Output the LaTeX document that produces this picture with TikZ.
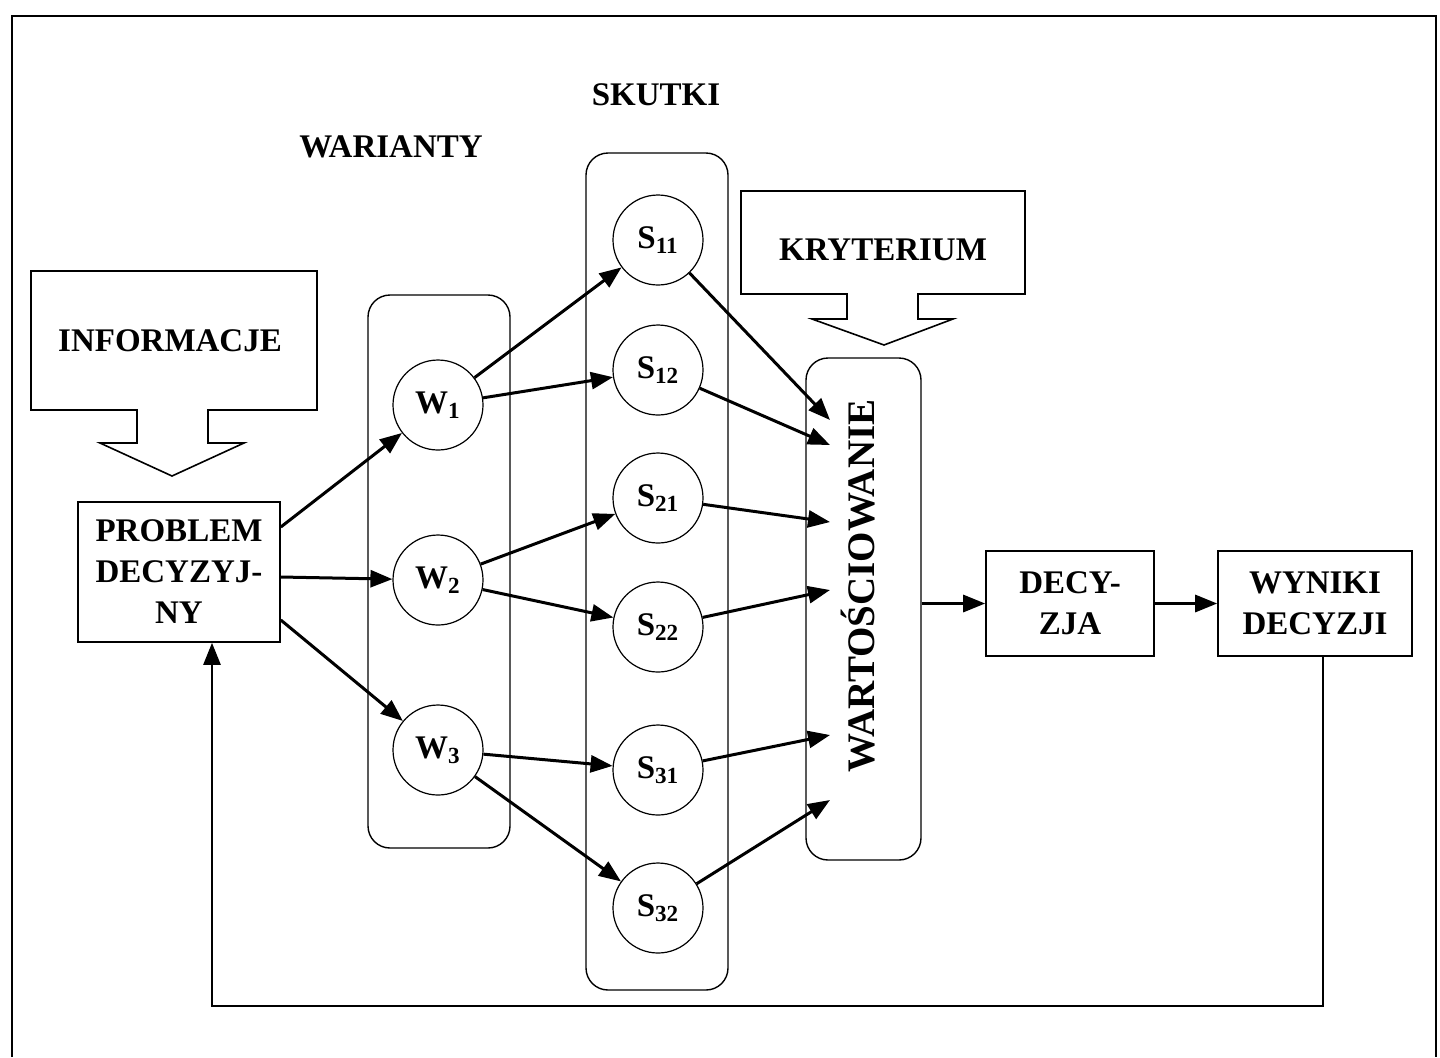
\documentclass[tikz,border=0pt]{standalone}
\usepackage{fontspec}
\setmainfont{Liberation Serif}
\usetikzlibrary{arrows.meta}

\begin{document}
\begin{tikzpicture}[x=0.5pt,y=-0.5pt,
  lbl/.style={font=\fontsize{16.5}{20.5}\selectfont\bfseries},
  box/.style={draw, line width=0.8pt, inner sep=0pt, align=center, font=\fontsize{16.5}{20.5}\selectfont\bfseries},
  column/.style={draw, line width=0.7pt, rounded corners=11pt, inner sep=0pt},
  var/.style={draw, circle, line width=0.6pt, minimum size=45pt, inner sep=0pt, font=\fontsize{16.5}{18}\selectfont\bfseries},
  arr/.style={line width=1.5pt, -{Triangle[length=11pt,width=8.5pt]}},
  callout/.style={line width=0.8pt, line join=miter}]
\useasboundingbox (0,0) rectangle (1440,1057);
\draw[line width=0.9pt] (12,1057) -- (12,16) -- (1436,16) -- (1436,1057);

\draw[callout] (208,410) -- (317,410) -- (317,271) -- (31,271) -- (31,410) -- (137,410) -- (137,443) -- (100,443) -- (172,476) -- (244,443) -- (208,443) -- cycle;
\node[lbl] (info) at (170,341) {INFORMACJE};
\draw[callout] (918,294) -- (1025,294) -- (1025,191) -- (741,191) -- (741,294) -- (847,294) -- (847,319) -- (812,319) -- (884,345) -- (953,319) -- (918,319) -- cycle;
\node[lbl] (kryt) at (883,250) {KRYTERIUM};

\node[lbl] (war) at (391,147) {WARIANTY};
\node[lbl] (skut) at (656,95) {SKUTKI};

\node[column, minimum width=71pt, minimum height=276.5pt] (wcol) at (439,571.5) {};
\node[column, minimum width=71pt, minimum height=418.5pt] (scol) at (657,571.5) {};
\node[column, minimum width=57.5pt, minimum height=251pt] (wart) at (863.5,609) {};
\node[font=\fontsize{19.5}{21}\selectfont\bfseries, rotate=90] (wartlbl) at (858,586) {WARTOŚCIOWANIE};

\node[box, minimum width=101pt, minimum height=70pt] (prob) at (179,572) {PROBLEM\\DECYZYJ-\\NY};
\node[box, minimum width=84pt, minimum height=52.5pt] (dec) at (1070,603.5) {DECY-\\ZJA};
\node[box, minimum width=97pt, minimum height=52.5pt] (wyn) at (1315,603.5) {WYNIKI\\DECYZJI};

\node[var] (w1) at (438,405) {W\textsubscript{1}};
\node[var] (w2) at (438,580) {W\textsubscript{2}};
\node[var] (w3) at (438,750) {W\textsubscript{3}};

\node[var] (s11) at (658,240) {S\textsubscript{11}};
\node[var] (s12) at (658,370) {S\textsubscript{12}};
\node[var] (s21) at (658,498) {S\textsubscript{21}};
\node[var] (s22) at (658,627) {S\textsubscript{22}};
\node[var] (s31) at (658,770) {S\textsubscript{31}};
\node[var] (s32) at (658,908) {S\textsubscript{32}};

\coordinate (v1) at (830,420);
\coordinate (v2) at (830,445);
\coordinate (v3) at (830,522);
\coordinate (v4) at (830,590);
\coordinate (v5) at (830,735);
\coordinate (v6) at (830,800);
\coordinate (fb) at (600,1006);

\draw[arr] ([yshift=22.5pt]prob.east) -- (w1);
\draw[arr] ([yshift=-2.5pt]prob.east) -- (w2);
\draw[arr] ([yshift=-24pt]prob.east) -- (w3);

\draw[arr] (w1) -- (s11);
\draw[arr] (w1) -- (s12);
\draw[arr] (w2) -- (s21);
\draw[arr] (w2) -- (s22);
\draw[arr] (w3) -- (s31);
\draw[arr] (w3) -- (s32);

\draw[arr] (s11) -- (v1);
\draw[arr] (s12) -- (v2);
\draw[arr] (s21) -- (v3);
\draw[arr] (s22) -- (v4);
\draw[arr] (s31) -- (v5);
\draw[arr] (s32) -- (v6);

\draw[arr] (wart.east |- dec.west) -- (dec.west);
\draw[arr] (dec) -- (wyn);
\draw[arr, line width=1.3pt] ([xshift=4pt]wyn.south) |- (fb) -| ([xshift=16.5pt]prob.south);
\end{tikzpicture}
\end{document}
